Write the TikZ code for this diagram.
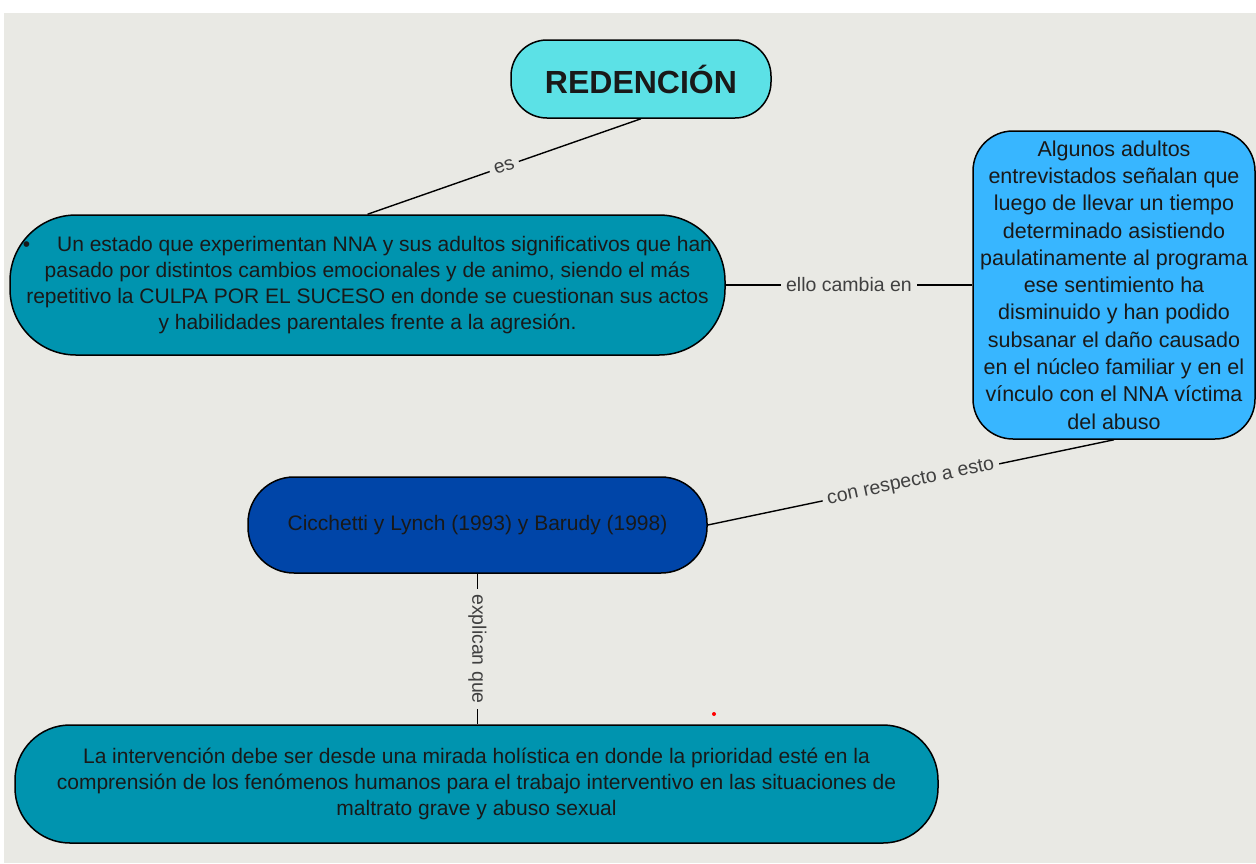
\documentclass[tikz,border=0pt]{standalone}
\usepackage{fontspec}
\setmainfont{Liberation Sans}
\usepackage{xcolor}
\usepackage{tikz}
\usetikzlibrary{positioning}
\definecolor{mapbg}{HTML}{E9E9E4}
\definecolor{titlecyan}{HTML}{5CE1E6}
\definecolor{mapteal}{HTML}{0094AF}
\definecolor{mapsky}{HTML}{38B6FF}
\definecolor{mapnavy}{HTML}{0045A8}
\tikzset{
    concept/.style = {
        rectangle,
        draw,
        line width=1.5pt,
        align=center,
        inner sep=2pt,
        text=black!90,
        font=\fontsize{21}{26}\selectfont
    },
    line/.style = {
        draw,
        line width=1.4pt
    },
    tag/.style = {
        fill=mapbg,
        text=black!75,
        inner sep=5pt,
        font=\fontsize{19.5}{20}\selectfont
    }
}

\begin{document}
\begin{tikzpicture}[
    x=1pt, y=-1pt,
    every node/.style={align=center}
]

% canvas
\useasboundingbox (0,0) rectangle (1256,863);
\fill [white] (0,0) rectangle (1256,863);
\fill [mapbg] (4,13) rectangle (1256,863);

% Main node
\node [concept, fill=titlecyan, rounded corners=36pt, minimum width=260pt, minimum height=78pt,
       font=\fontsize{32}{34}\selectfont\bfseries] (T) at (641,79) {REDENCIÓN};

% first concept and the one on its right
\node [concept, fill=mapteal, rounded corners=66pt, minimum width=715pt, minimum height=140pt] (A) at (367.5,285)
    {\textbullet\quad\ Un estado que experimentan NNA y sus adultos significativos que han\\
     pasado por distintos cambios emocionales y de animo, siendo el más\\
     repetitivo la CULPA POR EL SUCESO en donde se cuestionan sus actos\\
     y habilidades parentales frente a la agresión.};
\node [concept, fill=mapsky, rounded corners=40pt, minimum width=282pt, minimum height=308pt,
       font=\fontsize{21.5}{27.3}\selectfont] (B) at (1114,285)
    {Algunos adultos\\ entrevistados señalan que\\ luego de llevar un tiempo\\ determinado asistiendo\\
     paulatinamente al programa\\ ese sentimiento ha\\ disminuido y han podido\\ subsanar el daño causado\\
     en el núcleo familiar y en el\\ vínculo con el NNA víctima\\ del abuso};

% authors
\node [concept, fill=mapnavy, rounded corners=46pt, minimum width=459pt, minimum height=96pt] (C) at (477.5,525)
    {Cicchetti y Lynch (1993) y Barudy (1998)};

% bottom concept
\node [concept, fill=mapteal, rounded corners=55pt, minimum width=923pt, minimum height=118pt] (D) at (476.5,784)
    {La intervención debe ser desde una mirada holística en donde la prioridad esté en la\\
     comprensión de los fenómenos humanos para el trabajo interventivo en las situaciones de\\
     maltrato grave y abuso sexual};

% links
\draw [line] (T.south) -- node[tag, midway, sloped] {es} (A.north);
\draw [line] (A.east) -- node[tag, midway] {ello cambia en} (B.west);
\draw [line] (B.south) -- node[tag, midway, sloped] {con respecto a esto} (C.east);
\draw [line] (C.south) -- node[tag, midway, rotate=-90] {explican que} (C.south |- D.north);

% stray mark
\fill [red] (714,714) circle (2pt);

\end{tikzpicture}
\end{document}
